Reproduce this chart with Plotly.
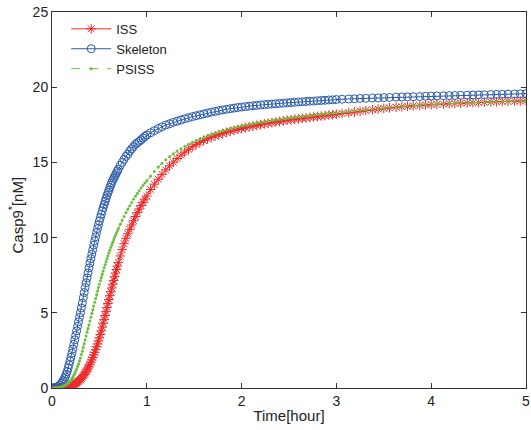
import plotly.graph_objects as go

# Time samples (hours)
time_h = [0, 0.02, 0.04, 0.06, 0.08,
          0.10, 0.11, 0.12, 0.13, 0.14, 0.15, 0.16, 0.17, 0.18, 0.19,
          0.20, 0.21, 0.22, 0.23, 0.24, 0.25, 0.26, 0.27, 0.28, 0.29,
          0.30, 0.31, 0.32, 0.33, 0.34, 0.35, 0.36, 0.37, 0.38, 0.39,
          0.40, 0.41, 0.42, 0.43, 0.44, 0.45, 0.46, 0.47, 0.48, 0.49,
          0.50, 0.51, 0.52, 0.53, 0.54, 0.55, 0.56, 0.57, 0.58, 0.59,
          0.60, 0.61, 0.62, 0.63, 0.64, 0.65, 0.66, 0.67, 0.68, 0.69,
          0.70, 0.72, 0.74, 0.76, 0.78,
          0.80, 0.82, 0.84, 0.86, 0.88,
          0.90, 0.92, 0.94, 0.96, 0.98,
          1.00,
          1.04, 1.08, 1.12, 1.16, 1.20, 1.24, 1.28, 1.32, 1.36, 1.40,
          1.44, 1.48, 1.52, 1.56, 1.60, 1.64, 1.68, 1.72, 1.76, 1.80,
          1.84, 1.88, 1.92, 1.96, 2.00, 2.04, 2.08, 2.12, 2.16, 2.20,
          2.24, 2.28, 2.32, 2.36, 2.40, 2.44, 2.48, 2.52, 2.56, 2.60,
          2.64, 2.68, 2.72, 2.76, 2.80, 2.84, 2.88, 2.92, 2.96, 3.00,
          3.06, 3.13, 3.19, 3.25, 3.31, 3.38, 3.44, 3.50, 3.56, 3.63,
          3.69, 3.75, 3.81, 3.88, 3.94, 4.00, 4.06, 4.13, 4.19, 4.25,
          4.31, 4.38, 4.44, 4.50, 4.56, 4.63, 4.69, 4.75, 4.81, 4.88,
          4.94, 5.00]

iss = [0, 0, 0, 0.005, 0.01,
       0.02, 0.025, 0.03, 0.04, 0.05, 0.06, 0.07, 0.085, 0.10, 0.12,
       0.14, 0.16, 0.19, 0.22, 0.26, 0.30, 0.35, 0.40, 0.45, 0.51,
       0.57, 0.64, 0.72, 0.81, 0.90, 1.00, 1.10, 1.21, 1.33, 1.45,
       1.58, 1.72, 1.87, 2.03, 2.20, 2.37, 2.55, 2.74, 2.93, 3.13,
       3.33, 3.56, 3.80, 4.05, 4.30, 4.56, 4.82, 5.08, 5.35, 5.62,
       5.88, 6.14, 6.40, 6.65, 6.90, 7.15, 7.40, 7.64, 7.88, 8.11,
       8.34, 8.78, 9.20, 9.60, 9.95,
       10.25, 10.55, 10.84, 11.12, 11.40,
       11.66, 11.90, 12.13, 12.35, 12.56,
       12.76,
       13.20, 13.55, 13.88, 14.20, 14.50, 14.77, 15.02, 15.26, 15.48, 15.68,
       15.87, 16.04, 16.20, 16.33, 16.45, 16.56, 16.66, 16.75, 16.84, 16.92,
       17.00, 17.07, 17.13, 17.19, 17.25, 17.31, 17.36, 17.41, 17.46, 17.51,
       17.56, 17.60, 17.64, 17.68, 17.72, 17.76, 17.80, 17.84, 17.87, 17.90,
       17.93, 17.96, 17.99, 18.02, 18.05, 18.08, 18.11, 18.14, 18.17, 18.20,
       18.25, 18.30, 18.35, 18.40, 18.45, 18.50, 18.55, 18.59, 18.63, 18.67,
       18.70, 18.73, 18.76, 18.79, 18.82, 18.84, 18.86, 18.88, 18.90, 18.92,
       18.94, 18.96, 18.97, 18.99, 19.00, 19.02, 19.03, 19.05, 19.06, 19.07,
       19.08, 19.10]

skeleton = [0, 0.01, 0.04, 0.09, 0.18,
            0.30, 0.40, 0.50, 0.62, 0.75, 0.92, 1.10, 1.32, 1.55, 1.80,
            2.05, 2.32, 2.60, 2.90, 3.20, 3.50, 3.80, 4.10, 4.40, 4.70,
            5.00, 5.32, 5.65, 6.00, 6.35, 6.68, 7.00, 7.32, 7.65, 7.98,
            8.30, 8.60, 8.90, 9.20, 9.50, 9.78, 10.05, 10.33, 10.60, 10.85,
            11.10, 11.33, 11.55, 11.78, 12.00, 12.20, 12.40, 12.60, 12.80, 12.98,
            13.15, 13.33, 13.50, 13.65, 13.80, 13.93, 14.05, 14.18, 14.30, 14.43,
            14.55, 14.80, 15.00, 15.20, 15.40,
            15.55, 15.75, 15.90, 16.05, 16.20,
            16.30, 16.40, 16.50, 16.62, 16.72,
            16.82,
            16.97, 17.11, 17.25, 17.37, 17.48, 17.57, 17.66, 17.74, 17.82, 17.90,
            17.97, 18.04, 18.10, 18.16, 18.22, 18.28, 18.34, 18.39, 18.44, 18.49,
            18.53, 18.57, 18.61, 18.65, 18.68, 18.71, 18.74, 18.77, 18.79, 18.82,
            18.84, 18.86, 18.88, 18.90, 18.92, 18.94, 18.96, 18.98, 19.00, 19.02,
            19.03, 19.05, 19.07, 19.08, 19.10, 19.12, 19.13, 19.15, 19.16, 19.18,
            19.20, 19.22, 19.23, 19.25, 19.26, 19.28, 19.29, 19.31, 19.32, 19.34,
            19.35, 19.36, 19.37, 19.38, 19.40, 19.41, 19.42, 19.43, 19.44, 19.45,
            19.46, 19.47, 19.48, 19.49, 19.50, 19.51, 19.52, 19.53, 19.54, 19.55,
            19.56, 19.57]

psiss = [0, 0, 0.01, 0.03, 0.05,
         0.08, 0.10, 0.13, 0.16, 0.20, 0.24, 0.28, 0.33, 0.38, 0.45,
         0.52, 0.61, 0.72, 0.84, 0.97, 1.12, 1.27, 1.43, 1.60, 1.80,
         2.00, 2.22, 2.45, 2.70, 2.95, 3.20, 3.45, 3.70, 3.95, 4.20,
         4.45, 4.70, 4.95, 5.20, 5.45, 5.70, 5.95, 6.20, 6.45, 6.68,
         6.90, 7.13, 7.35, 7.57, 7.78, 7.99, 8.20, 8.40, 8.60, 8.79,
         8.98, 9.16, 9.34, 9.51, 9.68, 9.84, 10.00, 10.15, 10.30, 10.45,
         10.60, 10.88, 11.15, 11.41, 11.66,
         11.90, 12.12, 12.34, 12.55, 12.75,
         12.94, 13.12, 13.30, 13.47, 13.63,
         13.78,
         14.10, 14.40, 14.70, 14.95, 15.18, 15.38, 15.57, 15.75, 15.91, 16.06,
         16.20, 16.33, 16.45, 16.56, 16.66, 16.76, 16.85, 16.94, 17.02, 17.10,
         17.17, 17.24, 17.31, 17.37, 17.43, 17.48, 17.53, 17.58, 17.63, 17.67,
         17.71, 17.75, 17.79, 17.83, 17.87, 17.90, 17.94, 17.97, 18.00, 18.03,
         18.06, 18.09, 18.12, 18.15, 18.17, 18.20, 18.22, 18.25, 18.27, 18.30,
         18.34, 18.38, 18.42, 18.46, 18.50, 18.54, 18.58, 18.62, 18.66, 18.70,
         18.73, 18.76, 18.79, 18.82, 18.84, 18.86, 18.88, 18.90, 18.92, 18.94,
         18.96, 18.97, 18.99, 19.00, 19.02, 19.03, 19.05, 19.06, 19.07, 19.08,
         19.09, 19.10]

x_ticks = [0, 1, 2, 3, 4, 5]
y_ticks = [0, 5, 10, 15, 20, 25]

RED = "#EE2B2B"
BLUE = "#2B5BAA"
GREEN = "#6CBF3C"
FONT = "Liberation Sans, Arial, Helvetica, sans-serif"
TXT = "#222222"

fig = go.Figure()
fig.add_trace(go.Scatter(
    x=time_h, y=iss, name="ISS", mode="lines+markers",
    line=dict(color=RED, width=1),
    marker=dict(symbol="asterisk-open", size=8, color=RED, line=dict(width=1, color=RED)),
))
fig.add_trace(go.Scatter(
    x=time_h, y=skeleton, name="Skeleton", mode="lines+markers",
    line=dict(color=BLUE, width=1),
    marker=dict(symbol="circle-open", size=8, color=BLUE, line=dict(width=1, color=BLUE)),
))
fig.add_trace(go.Scatter(
    x=time_h, y=psiss, name="PSISS", mode="lines+markers",
    line=dict(color=GREEN, width=1, dash="dash"),
    marker=dict(symbol="circle", size=3, color=GREEN),
))

axis_common = dict(
    showgrid=False, zeroline=False, showline=True, mirror="ticks",
    linecolor="#333333", linewidth=1, ticks="inside", ticklen=5,
    tickcolor="#333333", tickfont=dict(size=14, color=TXT, family=FONT),
    ticklabeloverflow="allow",
)
fig.update_xaxes(range=[0, 5], tickvals=x_ticks,
                 title=dict(text="Time[hour]", font=dict(size=15, color=TXT, family=FONT), standoff=2),
                 **axis_common)
fig.update_yaxes(range=[0, 25], tickvals=y_ticks, **axis_common)

fig.add_annotation(
    text="Casp9<sup>*</sup>[nM]", textangle=-90,
    xref="paper", yref="paper", x=-0.077, y=0.46,
    xanchor="center", yanchor="middle", showarrow=False,
    font=dict(size=15, color=TXT, family=FONT),
)

fig.update_layout(
    width=531, height=430,
    margin=dict(l=52, r=1, t=12, b=42),
    paper_bgcolor="white", plot_bgcolor="white",
    font=dict(family=FONT, size=14, color=TXT),
    legend=dict(x=0.03, y=0.995, xanchor="left", yanchor="top",
                bgcolor="rgba(0,0,0,0)", borderwidth=0,
                font=dict(size=13, family=FONT, color=TXT),
                itemwidth=40, tracegroupgap=0),
    showlegend=True,
)

fig.write_html("out.html")
